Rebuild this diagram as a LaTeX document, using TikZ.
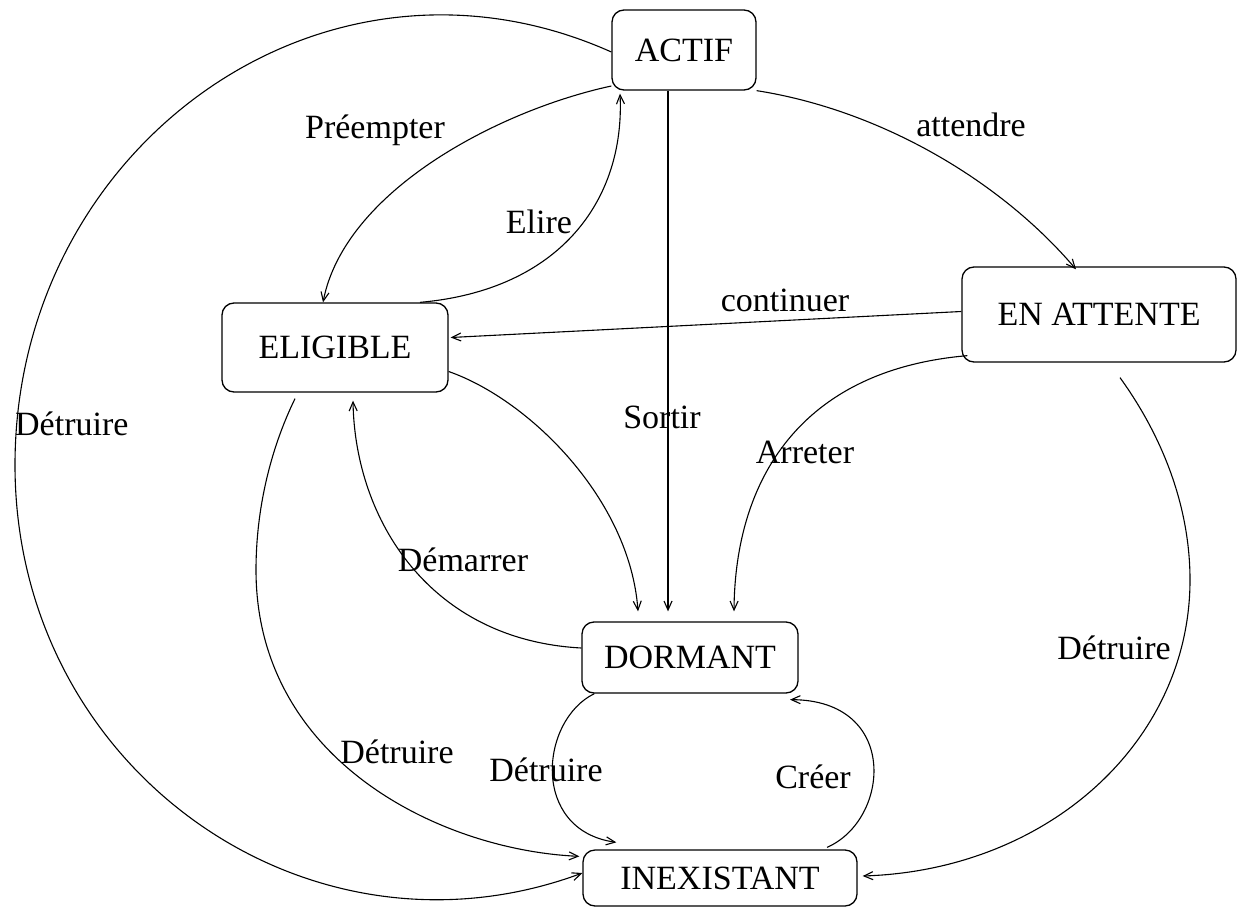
\documentclass[tikz,border=0pt]{standalone}
\usepackage{fontspec}
\setmainfont{Liberation Serif}
\usetikzlibrary{arrows.meta}
\begin{document}
\begin{tikzpicture}[x=1pt,y=-1pt,
  state/.style={draw, line width=1.3pt, rounded corners=12pt, inner sep=0pt},
  trans/.style={line width=1.1pt, -{Straight Barb[length=9pt,width=8pt,line width=1.1pt]}},
  lab/.style={inner sep=0pt},
  font=\fontsize{34}{40}\selectfont]
\useasboundingbox (0,0) rectangle (1238,909);

% states
\node[state, minimum width=144pt, minimum height=80pt] (actif)      at (684,50)    {ACTIF};
\node[state, minimum width=226pt, minimum height=89pt] (eligible)   at (335,347.5) {ELIGIBLE};
\node[state, minimum width=274pt, minimum height=95pt] (attente)    at (1099,314.5){EN ATTENTE};
\node[state, minimum width=216pt, minimum height=71pt] (dormant)    at (690,657.5) {DORMANT};
\node[state, minimum width=274pt, minimum height=56pt] (inexistant) at (720,878)   {INEXISTANT};

% transitions
% ACTIF -> INEXISTANT (outer arc)
\draw[trans] ([yshift=-2pt]actif.west) .. controls (323,-77) and (15,147) .. (15,465)
  .. controls (15,769) and (307,975) .. ([yshift=5pt]inexistant.west);
% ACTIF -> ELIGIBLE
\draw[trans] ([yshift=-36pt]actif.west) .. controls (500,110) and (345,190) .. ([xshift=-12pt]eligible.north);
% ELIGIBLE -> ACTIF
\draw[trans] ([xshift=85pt]eligible.north) .. controls (560,290) and (625,200) .. ([xshift=-64pt,yshift=-3pt]actif.south);
% ACTIF -> DORMANT
\draw[trans] ([xshift=-16pt]actif.south) -- ([xshift=-22pt,yshift=10pt]dormant.north);
% ACTIF -> EN ATTENTE
\draw[trans] (actif.south east) .. controls (880,110) and (1000,180) .. ([xshift=-23pt,yshift=-3pt]attente.north);
% EN ATTENTE -> ELIGIBLE
\draw[trans] ([yshift=3pt]attente.west) -- ([xshift=2pt,yshift=10pt]eligible.east);
% EN ATTENTE -> DORMANT
\draw[trans] ([xshift=6pt,yshift=7pt]attente.south west) .. controls (800,370) and (735,480) .. ([xshift=44pt,yshift=10pt]dormant.north);
% EN ATTENTE -> INEXISTANT
\draw[trans] ([xshift=21pt,yshift=-15pt]attente.south) .. controls (1165,440) and (1190,510) .. (1190,580)
  .. controls (1190,740) and (1050,870) .. ([xshift=5pt,yshift=2pt]inexistant.east);
% ELIGIBLE -> DORMANT
\draw[trans] ([yshift=-24pt]eligible.east) .. controls (530,400) and (630,500) .. ([xshift=-52pt,yshift=10pt]dormant.north);
% DORMANT -> ELIGIBLE
\draw[trans] ([yshift=9.5pt]dormant.west) .. controls (430,640) and (355,520) .. ([xshift=18pt,yshift=-8pt]eligible.south);
% ELIGIBLE -> INEXISTANT
\draw[trans] ([xshift=-40pt,yshift=-6pt]eligible.south) .. controls (270,450) and (256,510) .. (256,570)
  .. controls (256,760) and (440,850) .. ([xshift=-3pt,yshift=-7pt]inexistant.north west);
% DORMANT -> INEXISTANT
\draw[trans] ([xshift=13pt]dormant.south west) .. controls (540,720) and (530,830) .. ([xshift=34pt,yshift=7pt]inexistant.north west);
% INEXISTANT -> DORMANT
\draw[trans] ([xshift=107pt,yshift=2pt]inexistant.north) .. controls (890,820) and (900,700) .. ([xshift=100pt,yshift=-6pt]dormant.south);

% transition labels
\node[lab] (lpreempter) at (375,130) {Préempter};
\node[lab] (lelire)     at (539,222) {Elire};
\node[lab] (lattendre)  at (971,125) {attendre};
\node[lab] (lcontinuer) at (785,300) {continuer};
\node[lab] (lsortir)    at (662,417) {Sortir};
\node[lab] (larreter)   at (805,452) {Arreter};
\node[lab] (ldemarrer)  at (463,560) {Démarrer};
\node[lab, anchor=west] (ldetruireA) at (15,424) {Détruire};
\node[lab] (ldetruireB) at (1114,648) {Détruire};
\node[lab] (ldetruireC) at (397,752) {Détruire};
\node[lab] (ldetruireD) at (546,770) {Détruire};
\node[lab] (lcreer)     at (813,777) {Créer};
\end{tikzpicture}
\end{document}
